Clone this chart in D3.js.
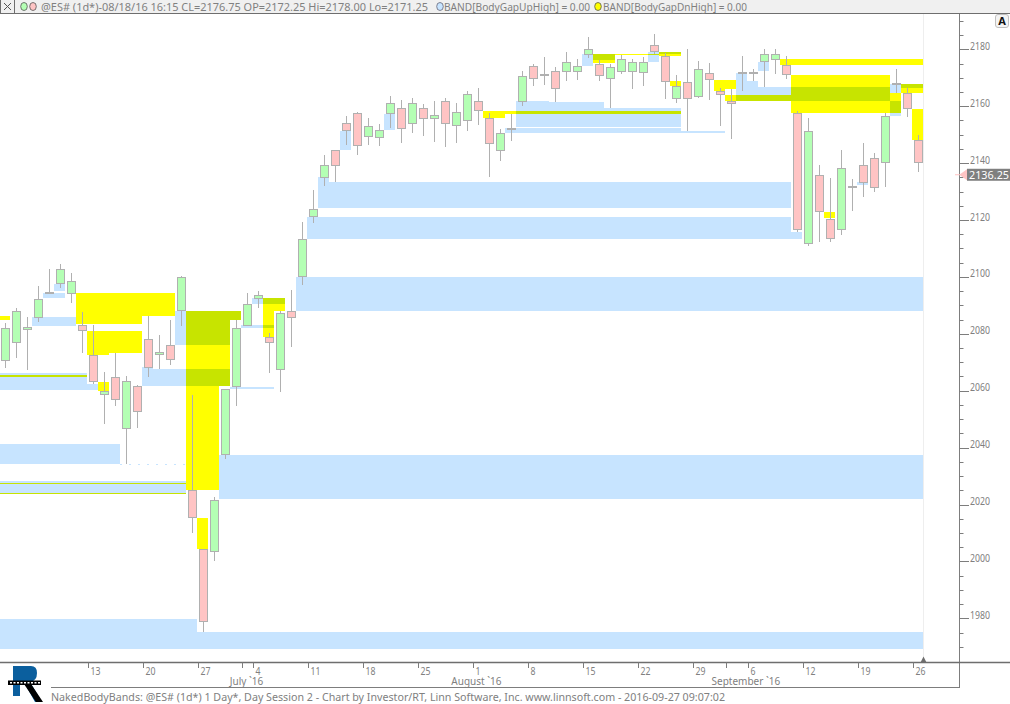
<!DOCTYPE html>
<html><head><meta charset="utf-8">
<script src="https://cdn.jsdelivr.net/npm/d3@7/dist/d3.min.js"></script>
<style>html,body{margin:0;padding:0;background:#fff}svg{display:block}text{font-family:"Noto Sans",sans-serif}</style>
</head><body><div id="c"></div>
<script>
const opens=[2070.75,2077,2081.75,2086,2094.75,2097.75,2094.5,2083.25,2072.5,2059,2064.75,2046.75,2061.5,2078,2073,2076,2088.25,2025,2004.25,2003.5,2037.75,2061.5,2083.25,2092.75,2078.75,2067.5,2088,2100.25,2121.25,2135.25,2144.5,2154,2157.5,2149.5,2149,2157.5,2159.25,2154.25,2159.5,2155.75,2161.75,2153.25,2155,2161.75,2155.75,2144.75,2152.5,2162,2174,2171.25,2172.5,2172.25,2172.5,2178.5,2175,2169.75,2172.25,2172.5,2172,2181.5,2177.5,2163,2168.5,2163.75,2171.5,2165.25,2161.75,2172,2172,2175.75,2176.75,2174.5,2157.5,2111.75,2135.75,2120.5,2117,2132,2139.25,2141.75,2140.25,2168.25,2164.5,2148];
const closes=[2082,2088,2082.5,2092.25,2094.75,2102.75,2098.5,2081.25,2063.25,2059.75,2057.25,2063.5,2052.75,2068.5,2073.75,2071,2100,2015.5,1979,2021.75,2060.5,2082,2090.5,2093.5,2077,2087.25,2086,2113.25,2124,2139.5,2139.5,2151.5,2146.5,2153,2151.5,2161,2152.5,2161,2156,2156.75,2154.25,2158,2164.25,2158.5,2147,2150.5,2152.5,2170.5,2169.75,2171.25,2166.5,2175.5,2174,2180,2171,2173.75,2176.75,2175.5,2175.5,2179.25,2169,2167,2162.75,2173,2169.5,2164.25,2161,2172,2172,2178.25,2178.25,2171.25,2117,2151.25,2123,2113.5,2138.25,2132,2133.5,2131.5,2156.5,2168.25,2159.25,2140.25];
const highs=[2083.75,2089,2085.75,2096.75,2102.75,2104.5,2101.5,2087.75,2083,2066.5,2073.25,2065.25,2062,2086.25,2079.5,2084.75,2100.25,2058.5,2004.25,2022.5,2060.75,2084.75,2094.25,2095,2080.25,2088,2095.5,2119.25,2130.5,2142.75,2144.5,2156.5,2158,2156,2153.75,2163.5,2162.25,2162.75,2160.75,2161.75,2162.75,2161,2165.25,2166.5,2157.5,2152,2157.25,2172.25,2174.75,2177.25,2173.75,2179,2176.5,2184.25,2176.25,2174.75,2178,2176.5,2177.25,2185.25,2178.75,2171,2180.25,2175.75,2175.25,2166.25,2166,2177.5,2173,2180,2180.25,2177.5,2158.25,2156,2139.25,2134.75,2144.5,2134.5,2147,2143.5,2157.5,2173,2166.5,2150];
const lows=[2068,2071.5,2067.25,2084,2094,2096,2090.75,2073.25,2062.25,2048.25,2054.5,2034.25,2047,2064.75,2067.5,2069,2082.75,2010,1975.25,2000,2036,2054.75,2082.75,2089,2066.25,2059.5,2075.5,2097.25,2119,2132,2133.5,2146.5,2142.75,2146.5,2146,2152.25,2147,2150.75,2149.5,2147.5,2145.75,2147,2151.25,2153.5,2135,2140.75,2147.75,2160,2167,2167.5,2161.5,2169,2169.25,2177,2169,2159.5,2171.25,2166,2167,2178.5,2162.5,2161.25,2151.25,2163,2162.25,2153,2148.5,2165.25,2169,2166.75,2171.25,2169.5,2115.75,2111,2112.25,2112.25,2114.75,2123.25,2128,2129.75,2131.5,2164.5,2156.25,2137];

// [first session, end session, upper price, lower price]
const gapUpBands=[[0,18,1979.75,1969.25],[18,84,1975.25,1969.25],[0,11,2041.25,2034.25],[0,17,2028.25,2023.75],[20,84,2037.5,2022],[21,25,2061.25,2060.5],[0,8,2066.25,2060.25],[8,9,2062.25,2060.25],[13,14,2068.25,2061.75],[14,21,2067.5,2061.75],[16,22,2088,2084.75],[16,21,2084.75,2076],[3,7,2086,2082.75],[4,6,2094.25,2092.5],[5,6,2097.5,2095],[23,26,2092.5,2090.5],[22,25,2083,2082],[27,84,2100,2088],[28,72,2121,2113.25],[72,73,2115.75,2113.25],[29,30,2135,2124.25],[30,72,2133.25,2124.25],[31,32,2151.25,2144.5],[35,36,2157.25,2151.5],[46,62,2152.25,2150.5],[62,66,2151.25,2150.5],[47,50,2161.75,2152.75],[50,55,2161.5,2152.75],[55,62,2159.5,2152.75],[53,54,2178.25,2174],[54,56,2178.25,2176.25],[59,60,2179,2175.5],[60,62,2179,2178.25],[67,68,2171.75,2161.75],[68,69,2168.75,2161.75],[69,81,2166.75,2161.75],[81,82,2167.75,2164.75],[81,82,2161.75,2156.5],[82,84,2167.75,2166.5],[69,70,2175.5,2172.5],[78,79,2133.25,2132.25]];
const gapDnBands=[[0,1,2086.25,2084.75],[7,16,2094.25,2086.25],[7,13,2086.25,2083.5],[8,10,2081,2072.5],[10,13,2081,2073.25],[9,10,2063,2060],[0,8,2065.5,2064.75],[0,17,2027.5,2027.25],[0,17,2024,2023.75],[17,22,2088,2084.75],[17,21,2084.75,2061.75],[17,20,2061.75,2025],[18,19,2015.25,2004.25],[24,26,2092.5,2088],[24,25,2088,2079],[44,62,2158.25,2157.25],[44,46,2157.25,2155.75],[54,56,2178.25,2175.25],[56,62,2178.25,2178],[60,62,2179,2177.75],[61,62,2168.75,2167],[65,67,2169.25,2166],[65,66,2166,2165.25],[66,72,2164,2161.75],[72,81,2171,2157.5],[81,82,2164.75,2157.5],[71,84,2176.5,2174.5],[82,84,2167.75,2164.75],[83,84,2159,2148],[75,76,2122.75,2120.75]];
const dashedBand=[11,17,2034.25];

const dayTicks=[[8,"13"],[13,"20"],[18,"27"],[22,""],[23,"4"],[28,"11"],[33,"18"],[38,"25"],[43,"1"],[48,"8"],[53,"15"],[58,"22"],[63,"29"],[66,""],[68,"6"],[73,"12"],[78,"19"],[83,"26"]];
const monthLabels=[[22.5,"July `16"],[43.4,"August `16"],[67.9,"September `16"]];
const majorPrices=[1980,2000,2020,2040,2060,2080,2100,2120,2140,2160,2180];
const lastPrice=2136.25;
const headerMain="@ES# (1d*)-08/18/16 16:15 CL=2176.75 OP=2172.25 Hi=2178.00 Lo=2171.25";
const legendUp="BAND[BodyGapUpHigh] = 0.00";
const legendDn="BAND[BodyGapDnHigh] = 0.00";
const footer="NakedBodyBands: @ES# (1d*) 1 Day*, Day Session 2 - Chart by Investor/RT, Linn Software, Inc. www.linnsoft.com - 2016-09-27 09:07:02";

const W=1010,H=704,axisX=959.5,axisY=662.5,plotRight=923.5;
const x=d3.scaleLinear().domain([0,84]).range([-1,923]);
const y=d3.scaleLinear().domain([1980,2180]).range([618.3,49.3]);
const gray="#7d7d7d",textCol="#808080";
const svg=d3.select("#c").append("svg").attr("width",W).attr("height",H);
svg.append("rect").attr("width",W).attr("height",H).attr("fill","#fff");
svg.append("defs").append("clipPath").attr("id","pc").append("rect").attr("x",0).attr("y",14).attr("width",923).attr("height",648);
const plot=svg.append("g").attr("clip-path","url(#pc)");
function bandRects(g,data,fill){
  g.selectAll("rect").data(data).join("rect")
   .attr("x",d=>x(d[0])).attr("width",d=>x(d[1])-x(d[0]))
   .attr("y",d=>Math.round(y(d[2])))
   .attr("height",d=>Math.max(1,Math.round(y(d[3]))-Math.round(y(d[2]))))
   .attr("fill",fill).attr("shape-rendering","crispEdges");
}
bandRects(plot.append("g"),gapUpBands,"#c7e4ff");
plot.append("line").attr("x1",x(dashedBand[0])).attr("x2",x(dashedBand[1])).attr("y1",Math.round(y(dashedBand[2]))+.5).attr("y2",Math.round(y(dashedBand[2]))+.5).attr("stroke","#c7e4ff").attr("stroke-dasharray","2 7");
bandRects(plot.append("g").style("mix-blend-mode","multiply"),gapDnBands,"#ffff00");

svg.append("line").attr("x1",plotRight).attr("x2",plotRight).attr("y1",14).attr("y2",axisY).attr("stroke","#eeeeee");

const cs=plot.append("g").selectAll("g").data(opens.map((o,i)=>({i,o,c:closes[i],h:highs[i],l:lows[i]}))).join("g");
const cx=d=>Math.round(x(d.i))+6.5;
cs.append("line").attr("x1",cx).attr("x2",cx).attr("y1",d=>Math.round(y(d.h))).attr("y2",d=>Math.round(y(d.l))).attr("stroke","#b0b0b0").attr("shape-rendering","crispEdges");
cs.append("rect").attr("x",d=>cx(d)-4).attr("width",8)
  .attr("y",d=>Math.round(y(Math.max(d.o,d.c)))+.5)
  .attr("height",d=>Math.max(1,Math.round(y(Math.min(d.o,d.c)))-Math.round(y(Math.max(d.o,d.c)))))
  .attr("fill",d=>d.c>d.o?"#b4ffb4":d.c<d.o?"#ffc4c4":"#b0b0b0")
  .attr("stroke","#b0b0b0").attr("shape-rendering","crispEdges");

// header
svg.append("rect").attr("width",W).attr("height",13).attr("fill","#f0f0f0");
svg.append("line").attr("x1",0).attr("x2",W).attr("y1",13.5).attr("y2",13.5).attr("stroke","#6e6e6e");
svg.append("line").attr("x1",14.5).attr("x2",14.5).attr("y1",0).attr("y2",13).attr("stroke","#6e6e6e");
svg.append("line").attr("x1",0.5).attr("x2",0.5).attr("y1",0).attr("y2",13).attr("stroke","#6e6e6e");
svg.append("path").attr("d","M4 3L11 10M11 3L4 10").attr("stroke","#555").attr("fill","none");
[[24,"#b4ffb4","#555"],[33,"#ffc4c4","#555"],[440,"#c7e4ff","#667"],[598,"#ffff00","#555"]].forEach(a=>{
  svg.append("ellipse").attr("cx",a[0]).attr("cy",6.5).attr("rx",3.3).attr("ry",4).attr("fill",a[1]).attr("stroke",a[2]).attr("stroke-width",.8);
});
function label(t,px,py,len,fs,col,anchor){
  const e=svg.append("text").attr("x",px).attr("y",py).attr("font-size",fs||10).attr("fill",col||textCol).text(t);
  if(len) e.attr("textLength",len).attr("lengthAdjust","spacingAndGlyphs");
  if(anchor) e.attr("text-anchor",anchor);
  return e;
}
label(headerMain,41,10.5,387,11);
label(legendUp,444,10.5,146,11);
label(legendDn,603,10.5,144,11);

// price axis
const minorPrices=d3.range(1970,2195,5).filter(p=>y(p)>14&&y(p)<axisY);
svg.append("line").attr("x1",axisX).attr("x2",axisX).attr("y1",14).attr("y2",688).attr("stroke",gray);
svg.append("g").selectAll("line").data(minorPrices).join("line").attr("x1",axisX).attr("x2",d=>axisX+(majorPrices.includes(d)?9.5:4))
  .attr("y1",d=>Math.round(y(d))+.5).attr("y2",d=>Math.round(y(d))+.5).attr("stroke",gray);
svg.append("g").selectAll("text").data(majorPrices).join("text").attr("x",970).attr("y",d=>y(d)+0.5)
  .attr("font-size",10).attr("fill",textCol).attr("textLength",20).attr("lengthAdjust","spacingAndGlyphs").text(d=>d);

// last price marker
const ly=y(lastPrice)-4.5;
svg.append("path").attr("d",`M955 ${ly+5}h5l7 -5v11l-7 -5h-5z`).attr("fill","#ffc4c4");
svg.append("rect").attr("x",967).attr("y",ly-.5).attr("width",43).attr("height",12).attr("fill","#7f7f7f");
label(d3.format(".2f")(lastPrice),969,ly+9.5,40,11,"#fff");

// A button
svg.append("rect").attr("x",995.5).attr("y",14.5).attr("width",13).attr("height",13).attr("rx",2.5).attr("fill","#f4f4f4").attr("stroke","#c0c0c0");
label("A",1002,25,null,11,"#111","middle").attr("font-weight","bold");

// time axis
svg.append("line").attr("x1",0).attr("x2",W).attr("y1",axisY).attr("y2",axisY).attr("stroke","#6e6e6e").attr("stroke-width",1.4);
svg.append("path").attr("d",`M${plotRight-3} ${axisY}L${plotRight} ${axisY-6}L${plotRight+3} ${axisY}z`).attr("fill","#6e6e6e");
svg.append("g").selectAll("line").data(dayTicks).join("line").attr("x1",d=>Math.round(x(d[0]))+1.5).attr("x2",d=>Math.round(x(d[0]))+1.5)
  .attr("y1",axisY).attr("y2",668).attr("stroke",gray);
svg.append("g").selectAll("text").data(dayTicks.filter(d=>d[1])).join("text").attr("x",d=>x(d[0])+3.5).attr("y",675)
  .attr("font-size",10).attr("fill",textCol).attr("textLength",d=>d[1].length*5).attr("lengthAdjust","spacingAndGlyphs").text(d=>d[1]);
svg.append("g").selectAll("text").data(monthLabels).join("text").attr("x",d=>x(d[0])).attr("y",685).attr("text-anchor","middle")
  .attr("font-size",10).attr("fill",textCol).text(d=>d[1]);
svg.append("line").attr("x1",51).attr("x2",axisX).attr("y1",687.5).attr("y2",687.5).attr("stroke",gray);
label(footer,51,701,674,11);

// logo
const logo=svg.append("g");
logo.append("path").attr("d","M13 666H31Q37 666 37 673Q37 681 30 682L42 702H35L25 684H20V696H13Z").attr("fill","#0b5f9e");
logo.append("path").attr("d","M24 684H31L43 702H36Z").attr("fill","#000");
logo.append("rect").attr("x",8).attr("y",680.5).attr("width",33).attr("height",4.5).attr("fill","#000");
logo.append("line").attr("x1",10).attr("x2",40).attr("y1",682.7).attr("y2",682.7).attr("stroke","#fff").attr("stroke-dasharray","2 1.5").attr("stroke-width",1.4);
</script></body></html>
